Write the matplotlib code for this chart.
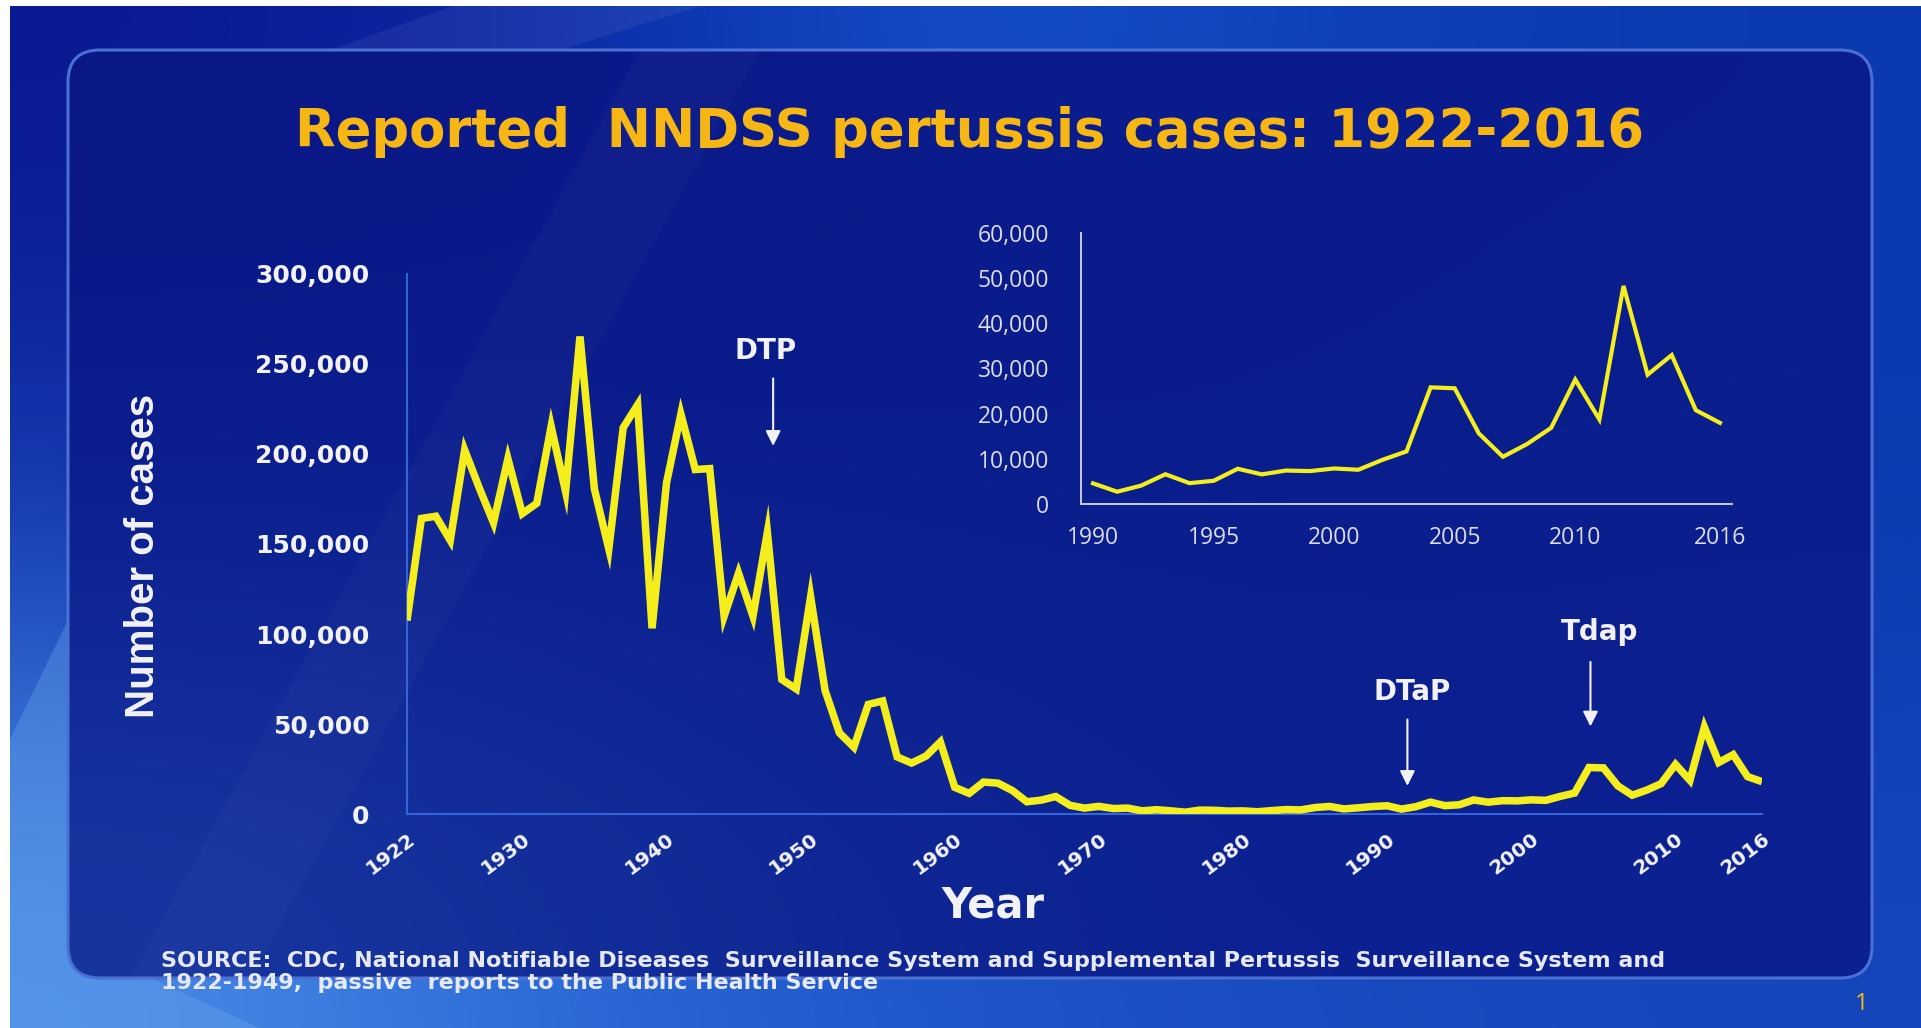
import numpy as np
import matplotlib
matplotlib.use("Agg")
import matplotlib.pyplot as plt
from matplotlib.patches import FancyBboxPatch, Polygon, Rectangle
from matplotlib.ticker import FuncFormatter
from matplotlib.colors import to_rgb

# ---------------- data ----------------
years = list(range(1922, 2017))
cases = [107473, 164191, 165418, 152003, 202210, 181411, 161799, 197371, 166914, 172559,
         215343, 179135, 265269, 180518, 147237, 214652, 227319, 103188, 183866, 222202,
         191383, 191890, 109873, 133792, 109860, 156517, 74715, 69479, 120718, 68687,
         45030, 37129, 60886, 62786, 31732, 28295, 32148, 40005, 14809, 11468,
         17749, 17135, 13005, 6799, 7717, 9718, 4810, 3285, 4249, 3036,
         3287, 1759, 2402, 1738, 1010, 2177, 2063, 1623, 1730, 1248,
         1895, 2463, 2276, 3589, 4195, 2823, 3450, 4157, 4570, 2719,
         4083, 6586, 4617, 5137, 7796, 6564, 7405, 7288, 7867, 7580,
         9771, 11647, 25827, 25616, 15632, 10454, 13278, 16858, 27550, 18719,
         48277, 28639, 32971, 20762, 17972]
inset_first_year = 1990

main_xticks = [1922, 1930, 1940, 1950, 1960, 1970, 1980, 1990, 2000, 2010, 2016]
main_yticks = [0, 50000, 100000, 150000, 200000, 250000, 300000]
inset_xticks = [1990, 1995, 2000, 2005, 2010, 2016]
inset_yticks = [0, 10000, 20000, 30000, 40000, 50000, 60000]

vaccine_labels = ["DTP", "DTaP", "Tdap"]
vaccine_label_x = [1946.9, 1991.7, 2004.7]
vaccine_label_y = [253000, 63500, 96500]
vaccine_arrow_x = [1947.4, 1991.4, 2004.1]
vaccine_arrow_top = [242000, 52500, 84500]
vaccine_arrow_tip = [204500, 15600, 48600]

title_text = "Reported  NNDSS pertussis cases: 1922-2016"
ylabel_text = "Number of cases"
xlabel_text = "Year"
source_lines = ["SOURCE:  CDC, National Notifiable Diseases  Surveillance System and Supplemental Pertussis  Surveillance System and",
                "1922-1949,  passive  reports to the Public Health Service"]
page_text = "1"

# ---------------- figure ----------------
W, H = 1921, 1028
fig = plt.figure(figsize=(W / 100, H / 100), dpi=100)

YELLOW = "#f4ef1c"
GOLD = "#f6b714"
WHITE = "#f2f2f6"

def grid_img(rows):
    return np.array([[to_rgb(c) for c in r] for r in rows])

# background in pixel coordinates (y downwards)
bg = fig.add_axes([0, 0, 1, 1])
bg.set_axis_off()
bg_rows = [
    ["#0a1890", "#0b2aa6", "#1656d0", "#0e40b8", "#0b3ab0"],
    ["#1238b0", "#0a1e96", "#0a1f94", "#0a2aa0", "#0c3bb0"],
    ["#4a8ee8", "#2a6ad8", "#1e58cc", "#1a4cc0", "#1646bc"],
]
bg.imshow(grid_img(bg_rows), extent=[0, W, H, 0], origin="upper",
          aspect="auto", interpolation="bicubic", zorder=0)
bg.add_patch(Polygon([[470, 0], [720, 0], [560, 50], [330, 50]], closed=True,
                     facecolor="white", alpha=0.06, lw=0, zorder=1))
bg.add_patch(Polygon([[0, 1028], [0, 760], [68, 620], [68, 940], [150, 978], [260, 1028]],
                     closed=True, facecolor="#6aa8f0", alpha=0.35, lw=0, zorder=1))

panel = FancyBboxPatch((68, 50), 1872 - 68, 978 - 50,
                       boxstyle="round,pad=0,rounding_size=32",
                       facecolor="none", edgecolor="#4a70d4", lw=2.2, zorder=3)
bg.add_patch(panel)
panel_rows = [
    ["#0a1786", "#0a1a8a", "#0a1c8c", "#0a1d8e"],
    ["#0c1f90", "#0b1e8e", "#0a1d8c", "#0b1f8e"],
    ["#1736a0", "#102a96", "#0c2292", "#0c2092"],
]
pim = bg.imshow(grid_img(panel_rows), extent=[68, 1872, 978, 50], origin="upper",
                aspect="auto", interpolation="bicubic", zorder=2)
pim.set_clip_path(panel)
bg.add_patch(Polygon([[640, 50], [760, 50], [250, 978], [130, 978]], closed=True,
                     facecolor="white", alpha=0.025, lw=0, zorder=2.5))
bg.add_patch(Rectangle((0, 0), W, 6, facecolor="white", lw=0, zorder=5))
bg.add_patch(Rectangle((0, 0), 10, H, facecolor="white", lw=0, zorder=5))
bg.set_xlim(0, W)
bg.set_ylim(H, 0)

def rect(x0, ytop, x1, ybot):
    return [x0 / W, 1 - ybot / H, (x1 - x0) / W, (ybot - ytop) / H]

# ---------------- main chart ----------------
ax = fig.add_axes(rect(407, 274, 1762, 814))
ax.set_facecolor("none")
ax.plot(years, cases, color=YELLOW, lw=5.4, solid_joinstyle="miter",
        solid_capstyle="butt", zorder=3)
ax.set_xlim(1922, 2016)
ax.set_ylim(0, 300000)
for s in ["top", "right"]:
    ax.spines[s].set_visible(False)
for s in ["left", "bottom"]:
    ax.spines[s].set_color("#3563d8")
    ax.spines[s].set_linewidth(1.5)
ax.set_xticks(main_xticks)
ax.set_yticks(main_yticks)
ax.yaxis.set_major_formatter(FuncFormatter(lambda v, p: f"{int(v):,}"))
ax.tick_params(axis="y", length=0, pad=27, labelsize=18, labelcolor=WHITE)
ax.tick_params(axis="x", length=0, pad=11, labelsize=14.5, labelcolor=WHITE)
for lab in ax.get_yticklabels():
    lab.set_fontfamily("DejaVu Sans")
    lab.set_fontweight("bold")
for lab in ax.get_xticklabels():
    lab.set_fontfamily("DejaVu Sans")
    lab.set_fontweight("bold")
    lab.set_rotation(37)
    lab.set_ha("right")
    lab.set_va("top")
    lab.set_rotation_mode("anchor")

for name, tx, ty, axx, atop, atip in zip(vaccine_labels, vaccine_label_x, vaccine_label_y,
                                         vaccine_arrow_x, vaccine_arrow_top, vaccine_arrow_tip):
    ax.text(tx, ty, name, ha="center", va="baseline", color=WHITE,
            fontsize=20, fontweight="bold", family="DejaVu Sans")
    ax.annotate("", xy=(axx, atip), xytext=(axx, atop),
                arrowprops=dict(arrowstyle="-|>,head_length=0.9,head_width=0.45",
                                mutation_scale=10, color=WHITE, lw=1.5,
                                shrinkA=0, shrinkB=0))

# ---------------- inset ----------------
i0 = years.index(inset_first_year)
ins = fig.add_axes(rect(1081, 233, 1732, 504))
ins.set_facecolor("none")
ins.plot(years[i0:], cases[i0:], color=YELLOW, lw=3.0, solid_joinstyle="miter", zorder=3)
ins.set_xlim(1989.5, 2016.5)
ins.set_ylim(0, 60000)
for s in ["top", "right"]:
    ins.spines[s].set_visible(False)
for s in ["left", "bottom"]:
    ins.spines[s].set_color("#c8cadc")
    ins.spines[s].set_linewidth(1.4)
ins.set_xticks(inset_xticks)
ins.set_yticks(inset_yticks)
ins.yaxis.set_major_formatter(FuncFormatter(lambda v, p: f"{int(v):,}"))
ins.tick_params(axis="y", length=0, pad=23, labelsize=16.5, labelcolor="#dcdce8")
ins.tick_params(axis="x", length=0, pad=16, labelsize=16.5, labelcolor="#dcdce8")
for lab in ins.get_xticklabels() + ins.get_yticklabels():
    lab.set_fontfamily("Open Sans")

# ---------------- texts ----------------
fig.text(970 / W, 1 - 147 / H, title_text, ha="center", va="baseline",
         color=GOLD, fontsize=38, fontweight="bold", family="DejaVu Sans")
fig.text(143 / W, 1 - 556 / H, ylabel_text, rotation=90, ha="center", va="center",
         color=WHITE, fontsize=29, fontweight="bold", family="Liberation Sans")
fig.text(993 / W, 1 - 918 / H, xlabel_text, ha="center", va="baseline",
         color=WHITE, fontsize=30, fontweight="bold", family="DejaVu Sans")
for line, yb in zip(source_lines, [967, 989]):
    fig.text(161 / W, 1 - yb / H, line, ha="left", va="baseline",
             color="#e6e8f2", fontsize=16, fontweight="bold", family="DejaVu Sans")
fig.text(1862 / W, 1 - 1010 / H, page_text, ha="center", va="baseline",
         color=GOLD, fontsize=17, family="Open Sans")

fig.savefig("out.png", dpi=100)
